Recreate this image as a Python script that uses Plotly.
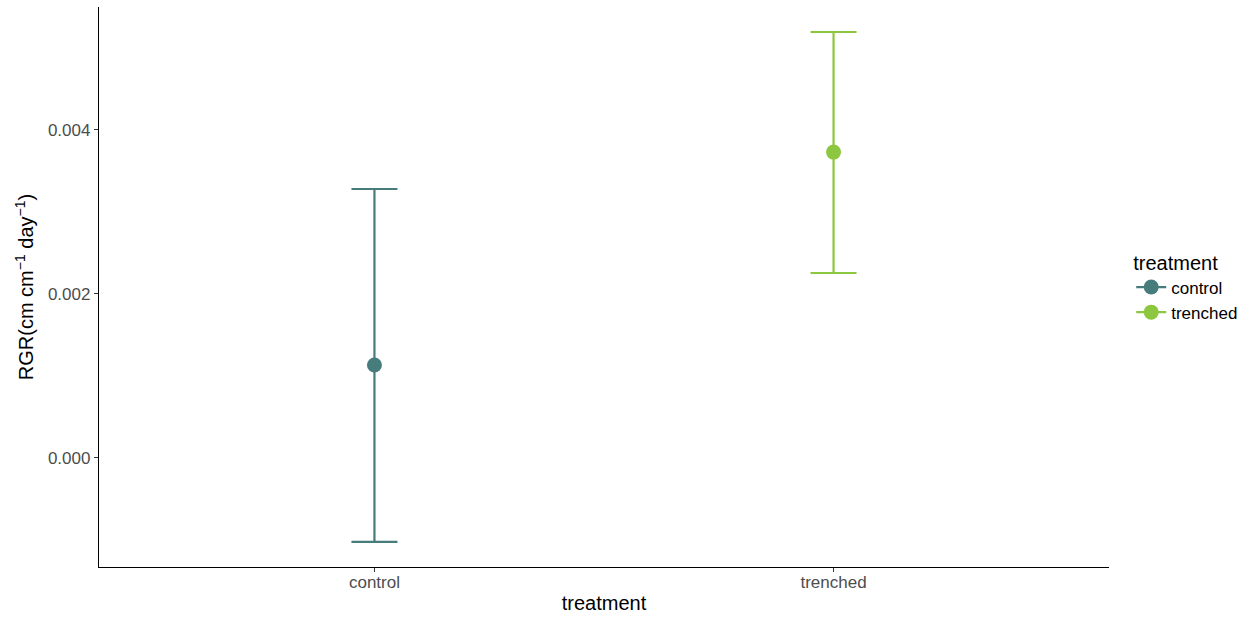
import plotly.graph_objects as go

categories = ["control", "trenched"]
means = [0.001134, 0.00373]
upper = [0.00328, 0.005195]
lower = [-0.001024, 0.002256]
colors = ["#477c7c", "#8dc63f"]
y_ticks = [0.0, 0.002, 0.004]
y_tick_labels = ["0.000", "0.002", "0.004"]

fig = go.Figure()
for cat, m, u, lo, c in zip(categories, means, upper, lower, colors):
    fig.add_trace(go.Scatter(
        x=[cat], y=[m], mode="markers", name=cat, showlegend=False,
        marker=dict(color=c, size=15),
        error_y=dict(type="data", symmetric=False, array=[u - m], arrayminus=[m - lo],
                     color=c, thickness=2.2, width=23),
    ))
# legend keys (point + errorbar line look)
for cat, c in zip(categories, colors):
    fig.add_trace(go.Scatter(
        x=[None], y=[None], mode="lines+markers", name=cat,
        marker=dict(color=c, size=15), line=dict(color=c, width=2.2),
    ))

font_family = "Liberation Sans, Arial, sans-serif"
fig.update_layout(
    width=1249, height=617,
    paper_bgcolor="white", plot_bgcolor="white",
    margin=dict(l=99, r=139, t=7, b=50),
    font=dict(family=font_family, color="black"),
    showlegend=True,
    legend=dict(
        title=dict(text="treatment", font=dict(size=20, color="black")),
        font=dict(size=17, color="black"),
        x=1.021, xanchor="left", y=0.5, yanchor="middle",
        tracegroupgap=0, itemwidth=30,
    ),
    xaxis=dict(
        type="category", categoryorder="array", categoryarray=categories,
        range=[-0.6, 1.6], automargin=False,
        showline=True, linecolor="black", linewidth=1.3,
        ticks="outside", ticklen=4, tickcolor="#333333",
        ticklabelstandoff=-5,
        tickfont=dict(size=17, color="#4d4d4d"),
        showgrid=False, zeroline=False,
        title=dict(text="treatment", font=dict(size=20, color="black"), standoff=5),
    ),
    yaxis=dict(
        range=[-0.00133, 0.0055], automargin=False,
        tickvals=y_ticks, ticktext=y_tick_labels,
        showline=True, linecolor="black", linewidth=1.3,
        ticks="outside", ticklen=4, tickcolor="#333333",
        tickfont=dict(size=17, color="#4d4d4d"),
        showgrid=False, zeroline=False,
        title=dict(text="RGR(cm cm<sup>−1</sup> day<sup>−1</sup>)",
                   font=dict(size=20, color="black"), standoff=8),
    ),
)

fig.write_html("out.html")
